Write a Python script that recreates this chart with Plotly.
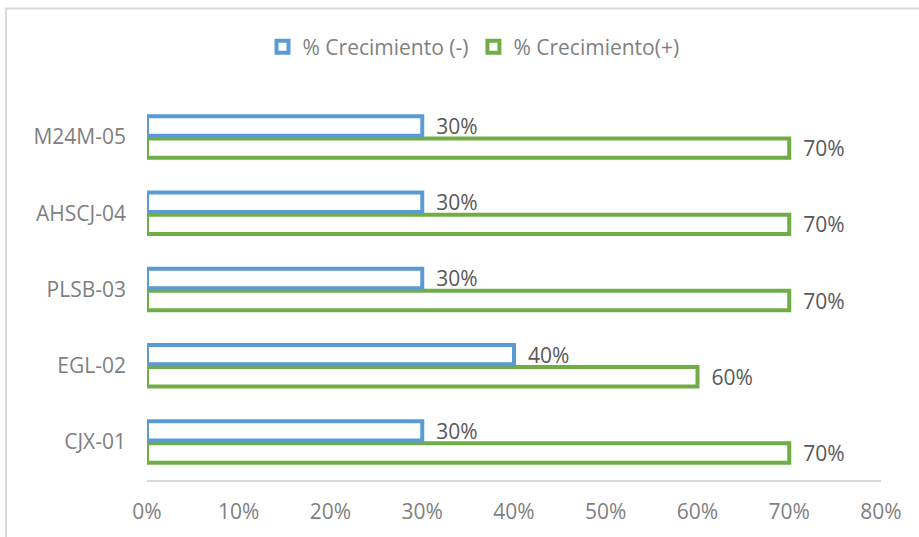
import plotly.graph_objects as go

categories = ["CJX-01", "EGL-02", "PLSB-03", "AHSCJ-04", "M24M-05"]
crec_neg = [0.30, 0.40, 0.30, 0.30, 0.30]
crec_pos = [0.70, 0.60, 0.70, 0.70, 0.70]
x_ticks = [0, 0.1, 0.2, 0.3, 0.4, 0.5, 0.6, 0.7, 0.8]

FONT = "Open Sans"
AXIS_GRAY = "#7f7f7f"
LABEL_GRAY = "#595959"
FS = 21

fig = go.Figure()
fig.add_trace(go.Bar(
    y=categories, x=crec_pos, orientation="h", name="% Crecimiento(+)",
    marker=dict(color="white", line=dict(color="#70ad47", width=4)),
    texttemplate="\u00a0\u00a0%{x:.0%}", textposition="outside", constraintext="none",
    textfont=dict(family=FONT, size=FS, color=LABEL_GRAY), cliponaxis=False,
))
fig.add_trace(go.Bar(
    y=categories, x=crec_neg, orientation="h", name="% Crecimiento (-)",
    marker=dict(color="white", line=dict(color="#5b9bd5", width=4)),
    texttemplate="\u00a0\u00a0%{x:.0%}", textposition="outside", constraintext="none",
    textfont=dict(family=FONT, size=FS, color=LABEL_GRAY), cliponaxis=False,
))

L, R, T, B = 147, 38, 99, 55
W, H = 919, 537
pw, ph = W - L - R, H - T - B

fig.update_layout(
    width=W, height=H,
    margin=dict(l=L, r=R, t=T, b=B),
    barmode="group", bargap=0.42, bargroupgap=0.12,
    paper_bgcolor="white", plot_bgcolor="white",
    font=dict(family=FONT, size=FS, color=AXIS_GRAY),
    showlegend=True,
    legend=dict(orientation="h", traceorder="reversed", x=0.5 + 14 / W, xanchor="center",
                xref="container", y=1 - 47 / H, yref="container", yanchor="middle",
                font=dict(family=FONT, size=FS, color=AXIS_GRAY), itemwidth=30),
    xaxis=dict(range=[0, 0.8], tickvals=x_ticks, tickformat=".0%", showgrid=False,
               zeroline=False, showline=True, linecolor="#d9d9d9", linewidth=1.5,
               ticks="", ticklabelstandoff=12,
               tickfont=dict(family=FONT, size=FS, color=AXIS_GRAY)),
    yaxis=dict(showgrid=False, zeroline=False, showline=False, ticks="",
               ticklabelstandoff=20, tickfont=dict(family=FONT, size=FS, color=AXIS_GRAY)),
    shapes=[dict(type="rect", xref="paper", yref="paper",
                 x0=(6 - L) / pw, x1=(W + 20 - L) / pw,
                 y0=(H - B - (H + 20)) / ph, y1=(H - B - 8) / ph,
                 line=dict(color="#d9d9d9", width=2), fillcolor="rgba(0,0,0,0)",
                 layer="below")],
)

fig.write_html("out.html")
